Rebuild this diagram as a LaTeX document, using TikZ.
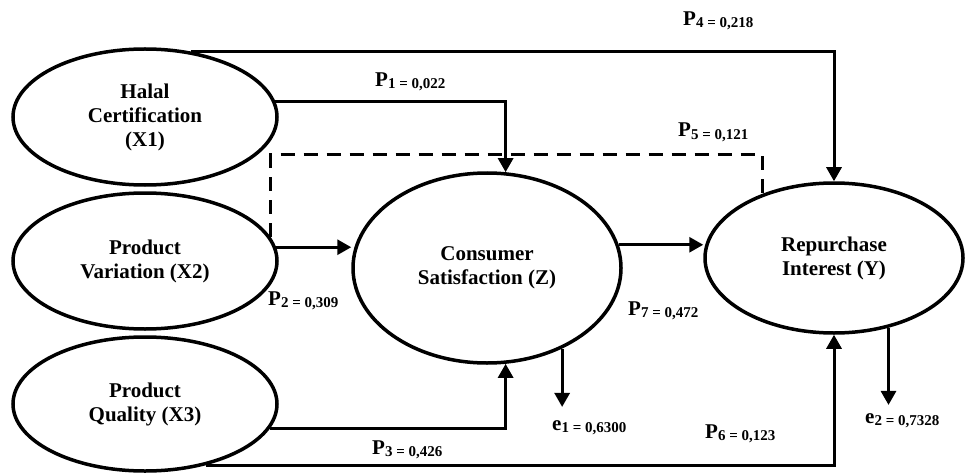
\documentclass[tikz,border=0pt]{standalone}
\usepackage{fontspec}
\setmainfont{Liberation Serif}
\usetikzlibrary{arrows.meta,shapes.geometric}
\newcommand{\coef}[2]{#1{\fontsize{15}{15}\selectfont\raisebox{-2pt}{#2}}}

\begin{document}
\begin{tikzpicture}[x=1pt,y=-1pt,
    var/.style={draw,ellipse,line width=3.5pt,inner sep=0pt,align=center,
      font=\fontsize{21}{24}\selectfont\bfseries},
    link/.style={line width=3pt,-{Triangle[length=14pt,width=15pt]}},
    dashpath/.style={line width=3pt,dash pattern=on 14pt off 9pt},
    lbl/.style={anchor=base west,inner sep=0pt,font=\fontsize{21}{24}\selectfont\bfseries}]
    \useasboundingbox (0,0) rectangle (973,473);

    % variables
    \node[var,minimum width=264pt,minimum height=136pt] (x1) at (145,117) {Halal\\Certification\\(X1)};
    \node[var,minimum width=264pt,minimum height=136pt] (x2) at (145,261) {Product\\Variation (X2)};
    \node[var,minimum width=264pt,minimum height=134pt] (x3) at (145,404) {Product\\Quality (X3)};
    \node[var,minimum width=268pt,minimum height=190pt] (z) at (487,268) {Consumer\\Satisfaction (Z)};
    \node[var,minimum width=258pt,minimum height=150pt] (y) at (834,258) {Repurchase\\Interest (Y)};

    % coefficients
    \node[lbl] (p1) at (375,87) {\coef{P}{1 = 0,022}};
    \node[lbl] (p2) at (268,305) {\coef{P}{2 = 0,309}};
    \node[lbl] (p3) at (372,454) {\coef{P}{3 = 0,426}};
    \node[lbl] (p4) at (683,26) {\coef{P}{4 = 0,218}};
    \node[lbl] (p5) at (678,137) {\coef{P}{5 = 0,121}};
    \node[lbl] (p6) at (705,438) {\coef{P}{6 = 0,123}};
    \node[lbl] (p7) at (628,315) {\coef{P}{7 = 0,472}};
    \node[lbl] (e1) at (552,430) {\coef{e}{1 = 0,6300}};
    \node[lbl] (e2) at (865,423) {\coef{e}{2 = 0,7328}};

    % paths to Z
    \draw[link] (x1.7) -| (z.79);
    \draw[link] (x2.6) -- (x2.6 -| z.west);
    \draw[link] (x3.349) -| (z.281);

    % paths to Y
    \draw[link] (x1.55) -| (y.north);
    \draw[link] (x3.-45) -| (y.south);
    \draw[link] (z.10) -- (z.10 -| y.west);
    \draw[dashpath] (x2.11) -- (x2.11 |- 0,155) -| (y.138);

    % errors
    \draw[link,shorten >=13pt] (z.313) -- (z.313 |- e1.north);
    \draw[link,shorten >=8pt] (y.308) -- (y.308 |- e2.north);
\end{tikzpicture}
\end{document}
